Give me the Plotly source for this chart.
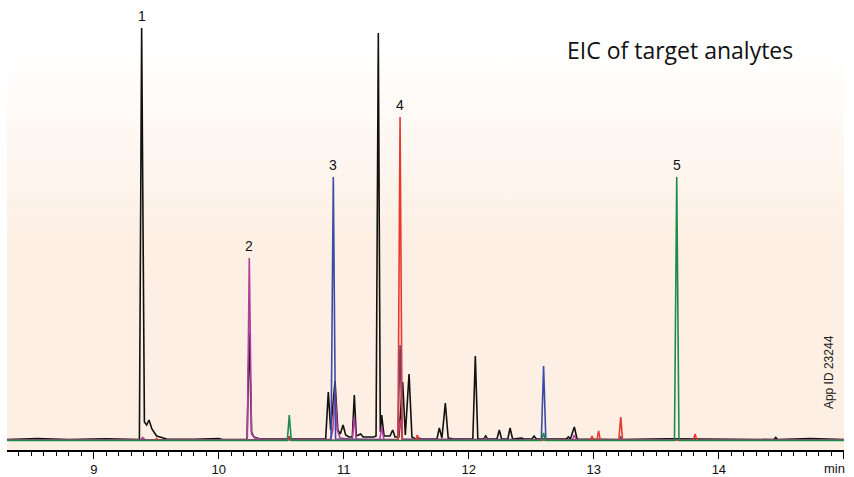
import plotly.graph_objects as go

# retention time (min) / detector response (arbitrary units)
black_t = [8.306, 8.55, 8.80, 9.10, 9.365, 9.383, 9.405, 9.423, 9.442, 9.465, 9.503, 9.583, 9.80, 10.00,
           10.03, 10.226, 10.244, 10.262, 10.28, 10.33, 10.55, 10.564, 10.58, 10.855, 10.876, 10.895,
           10.930, 10.952, 10.972, 10.994, 11.015, 11.04, 11.068, 11.084, 11.10, 11.135, 11.155, 11.24,
           11.258, 11.276, 11.292, 11.303, 11.322, 11.37, 11.391, 11.41, 11.44, 11.471, 11.492, 11.522,
           11.545, 11.575, 11.60, 11.62, 11.745, 11.764, 11.785, 11.812, 11.835, 11.88, 12.032, 12.052,
           12.072, 12.12, 12.135, 12.15, 12.225, 12.244, 12.262, 12.312, 12.33, 12.35, 12.423, 12.44,
           12.505, 12.522, 12.54, 12.78, 12.796, 12.812, 12.844, 12.866, 13.2, 13.6, 14.44, 14.455,
           14.47, 14.73, 15.001]
black_y = [0.5, 1.5, 0.5, 1.2, 0.5, 412, 18, 15, 20, 11, 4, 1, 0.8, 1.5,
           0.5, 0.5, 108, 8, 3, 1, 1, 3, 1, 1, 48, 10,
           59, 10, 6, 15, 5, 3, 3, 45, 4, 6, 3, 3,
           4, 407, 8, 25, 4, 4, 10, 3, 3, 58, 5, 66,
           3, 1, 2, 1, 1, 12, 2, 37, 2, 1, 1, 84,
           1, 1, 4, 1, 1, 10, 1, 1, 12, 1, 2, 1,
           1, 4, 1, 1, 3, 1, 13, 1, 0.5, 1.2, 0.5, 2.5,
           0.5, 1.5, 0.5]

magenta_t = [8.306, 9.375, 9.391, 9.41, 10.228, 10.244, 10.262, 10.29, 10.34, 10.895, 10.912, 10.930,
             10.948, 10.97, 11.068, 11.084, 11.10, 11.288, 11.303, 11.32, 11.432, 11.452, 11.468,
             12.12, 12.135, 12.15, 12.828, 12.844, 12.86, 15.001]
magenta_y = [0.3, 0.3, 2.5, 0.3, 0.3, 182, 6, 2, 0.5, 0.5, 10, 50,
             10, 2, 0.5, 23, 0.5, 0.5, 13, 0.5, 0.5, 20, 1,
             0.3, 2, 0.3, 0.3, 5, 0.3, 0.3]

blue_t = [8.306, 10.898, 10.916, 10.934, 11.432, 11.45, 11.468, 12.58, 12.598, 12.616,
          13.2, 13.215, 13.23, 15.001]
blue_y = [0.3, 0.3, 263, 1, 0.3, 95, 0.5, 0.3, 74, 0.3,
          0.3, 3, 0.3, 0.3]

red_t = [8.306, 9.49, 9.503, 9.516, 10.55, 10.564, 10.58, 11.433, 11.45, 11.467, 11.575, 11.588,
         11.60, 12.972, 12.986, 13.0, 13.024, 13.038, 13.052, 13.2, 13.215, 13.23, 13.796, 13.81,
         13.824, 15.001]
red_y = [-0.3, -0.3, 1.5, -0.3, -0.3, 2.5, -0.3, -0.3, 323, 0, -0.3, 5,
         -0.3, -0.3, 4, -0.3, -0.3, 9, -0.3, -0.3, 23, -0.3, -0.3, 6,
         -0.3, -0.3]

green_t = [8.306, 10.548, 10.564, 10.58, 12.582, 12.598, 12.614, 13.645, 13.663, 13.681, 15.001]
green_y = [-0.5, -0.5, 25, -0.5, -0.5, 7, -0.5, -0.5, 263, -0.5, -0.5]

traces = [
    ('black', black_t, black_y, '#111111'),
    ('magenta', magenta_t, magenta_y, '#b23f9f'),
    ('blue', blue_t, blue_y, '#3b4ca8'),
    ('red', red_t, red_y, '#e8392c'),
    ('green', green_t, green_y, '#1f8a4e'),
]

peak_ids = ['1', '2', '3', '4', '5']
peak_rt = [9.383, 10.244, 10.916, 11.45, 13.663]
peak_h = [412, 182, 263, 323, 263]

tick_vals = [9, 10, 11, 12, 13, 14, 15]
tick_text = ['9', '10', '11', '12', '13', '14', '']

x_range = [8.306, 15.001]
y_range = [-10, 440]
peach = 'rgb(253,239,227)'
label_font = 'Liberation Sans, Arial'

fig = go.Figure()

# background: white at the top fading into peach towards the baseline
fig.add_trace(go.Scatter(
    x=[x_range[0], x_range[1], x_range[1], x_range[0], x_range[0]],
    y=[y_range[0], y_range[0], y_range[1], y_range[1], y_range[0]],
    mode='lines', line=dict(width=0), fill='toself',
    fillgradient=dict(type='vertical',
                      colorscale=[[0, peach], [0.45, peach], [0.89, 'white'], [1, 'white']]),
    hoverinfo='skip', showlegend=False))

for name, t, y, color in traces:
    fig.add_trace(go.Scatter(x=t, y=y, mode='lines', name=name,
                             line=dict(color=color, width=1.6), showlegend=False))

for pid, rt, h in zip(peak_ids, peak_rt, peak_h):
    fig.add_annotation(x=rt, y=h, text=pid, showarrow=False, yanchor='bottom', yshift=2,
                       font=dict(family=label_font, size=14, color='#111'))

fig.add_annotation(xref='paper', yref='paper', x=0.8035, y=0.889, text='EIC of target analytes',
                   showarrow=False, xanchor='center', yanchor='middle',
                   font=dict(family='Open Sans', size=23, color='#111'))
fig.add_annotation(xref='paper', yref='paper', x=0.982, y=0.173, text='App ID 23244',
                   textangle=-90, showarrow=False, xanchor='center', yanchor='middle',
                   font=dict(family=label_font, size=12, color='#222'))
fig.add_annotation(xref='paper', yref='paper', x=0.989, y=-0.042, text='min',
                   showarrow=False, xanchor='center', yanchor='middle',
                   font=dict(family=label_font, size=13, color='#111'))

fig.update_xaxes(range=x_range, showgrid=False, zeroline=False, showline=True,
                 linecolor='black', linewidth=1.5, ticks='outside', ticklen=7,
                 tickcolor='black', tickwidth=1, tickvals=tick_vals, ticktext=tick_text,
                 tickfont=dict(family=label_font, size=13, color='#111'),
                 minor=dict(dtick=0.1, tick0=9, ticks='outside', ticklen=4,
                            tickcolor='black', tickwidth=1, showgrid=False))
fig.update_yaxes(range=y_range, visible=False, showgrid=False, zeroline=False)

fig.update_layout(width=854, height=477, margin=dict(l=7, r=10, t=0, b=27),
                  paper_bgcolor='white', plot_bgcolor='white')

# drop the browser's default page margin so the figure sits at the window's corner
fig.write_html("out.html", config={'displayModeBar': False},
               post_script="document.body.style.margin = '0';")
